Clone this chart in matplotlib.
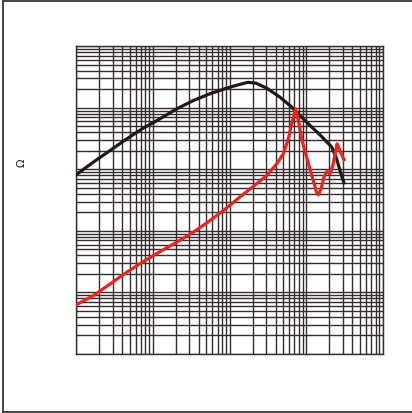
import matplotlib
matplotlib.use("Agg")
import matplotlib.pyplot as plt
from matplotlib.lines import Line2D

# frequency (MHz) and impedance (ohm)
freq_z = [0.1, 0.168, 0.277, 0.458, 0.753, 1.24, 2.05, 3.38, 5.57, 9.19, 13.7,
          17.4, 22.1, 30.5, 45.5, 64.6, 101, 151, 215, 249, 275, 310]
z_vals = [81.5, 131, 202, 313, 468, 663, 963, 1315, 1690, 2090, 2410,
          2600, 2520, 2090, 1490, 1030, 585, 364, 230, 148, 95.5, 60.3]

freq_r = [0.1, 0.168, 0.277, 0.458, 0.753, 1.24, 2.05, 3.38, 5.57, 9.19, 13.7,
          20.4, 30.5, 41.2, 50.2, 58.4, 64.6, 72.4, 78.8, 87.3, 101, 118, 137,
          144, 156, 170, 186, 204, 223, 252, 279, 310]
r_vals = [0.627, 0.887, 1.37, 2.13, 3.17, 4.61, 6.55, 9.53, 14.7, 23.7, 35.7,
          52.9, 79.3, 123, 179, 313, 549, 963, 622, 313, 158, 79.3, 41.5,
          38.5, 48.2, 75.5, 92.7, 84.5, 118, 260, 193, 143]

XLIM = (0.1, 1000)
YLIM = (0.1, 10000)
GRID = "#352d2d"

fig = plt.figure(figsize=(4.12, 4.14), dpi=100)
ax = fig.add_axes([76 / 412, 1 - 355 / 414, 307 / 412, 307.7 / 414])
ax.set_xscale("log")
ax.set_yscale("log")
ax.set_xlim(*XLIM)
ax.set_ylim(*YLIM)

ax.grid(True, which="both", color=GRID, linewidth=1.0)
ax.tick_params(which="both", length=0, labelbottom=False, labelleft=False)
for s in ax.spines.values():
    s.set_color(GRID)
    s.set_linewidth(1.0)

ax.plot(freq_z, z_vals, color="#231815", linewidth=2.3, zorder=3,
        solid_joinstyle="round")
ax.plot(freq_r, r_vals, color="#e8251f", linewidth=2.3, zorder=4,
        solid_joinstyle="round")

# outer frame (left, top, bottom only - right edge is cropped)
fc = "#4a4242"
fig.add_artist(Line2D([2.7 / 412, 2.7 / 412], [1 - 413 / 414, 1 - 2 / 414],
                      color=fc, linewidth=1.4, transform=fig.transFigure))
fig.add_artist(Line2D([2.7 / 412, 1], [1 - 2 / 414, 1 - 2 / 414],
                      color=fc, linewidth=1.4, transform=fig.transFigure))
fig.add_artist(Line2D([2.7 / 412, 1], [1 - 413 / 414, 1 - 413 / 414],
                      color=fc, linewidth=1.4, transform=fig.transFigure))

fig.text(22 / 412, 1 - 163 / 414, "Ω", rotation=90, fontsize=8,
         ha="center", va="center", color="#231815")

fig.savefig("out.png", dpi=100)
